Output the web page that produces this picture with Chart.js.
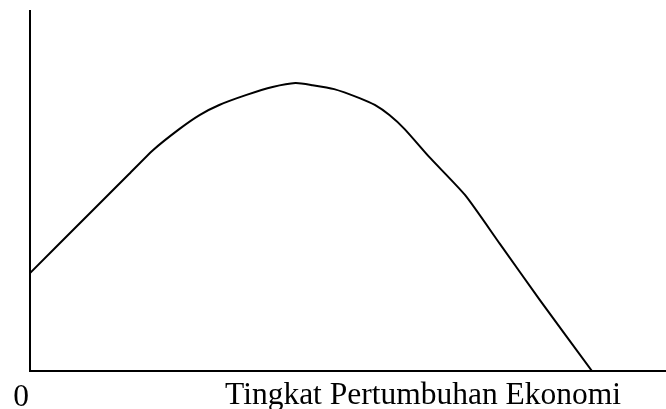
<!DOCTYPE html>
<html>
<head>
<meta charset="utf-8">
<script src="https://cdn.jsdelivr.net/npm/chart.js@4"></script>
<style>
html,body{margin:0;padding:0;background:#fff;}
#wrap{width:666px;height:409px;position:relative;}
</style>
</head>
<body>
<div id="wrap"><canvas id="c"></canvas></div>
<script>
const xValues = [0, 9.3, 15.6, 19.4, 23.5, 26.7, 29.8, 34.1, 38.2, 41.8, 44.5, 47.9, 51.9, 54.3, 56.6, 59.0, 62.9, 68.5, 74.0, 80.3, 88.5];
const yValues = [27.2, 43.6, 54.7, 61.4, 67.2, 71.1, 73.9, 76.7, 78.9, 80.0, 79.4, 78.3, 75.8, 73.9, 71.1, 67.2, 59.4, 48.9, 35.3, 19.7, 0];
const originLabel = "0";
const xAxisTitle = "Tingkat Pertumbuhan Ekonomi";

const points = xValues.map((x, i) => ({x: x, y: yValues[i]}));

const labelPlugin = {
  id: 'labels',
  afterDraw(chart) {
    const ctx = chart.ctx;
    const xs = chart.scales.x;
    const ys = chart.scales.y;
    ctx.save();
    ctx.fillStyle = '#000';
    ctx.font = '31.5px "Liberation Serif", "Times New Roman", serif';
    ctx.textBaseline = 'alphabetic';
    ctx.textAlign = 'right';
    ctx.fillText(originLabel, xs.getPixelForValue(0) - 1, ys.bottom + 35);
    ctx.textAlign = 'left';
    ctx.fillText(xAxisTitle, 225, ys.bottom + 33);
    ctx.restore();
  }
};

new Chart(document.getElementById('c'), {
  type: 'line',
  data: {
    datasets: [{
      data: points,
      borderColor: '#000',
      borderWidth: 2,
      pointRadius: 0,
      tension: 0.2,
      fill: false
    }]
  },
  options: {
    responsive: true,
    maintainAspectRatio: false,
    animation: false,
    layout: { padding: { left: 30, top: 11, right: 1, bottom: 38 } },
    plugins: { legend: { display: false }, tooltip: { enabled: false } },
    scales: {
      x: {
        type: 'linear', min: 0, max: 100,
        grid: { display: false, drawTicks: false },
        border: { display: true, color: '#000', width: 2 },
        ticks: { display: false }
      },
      y: {
        type: 'linear', min: 0, max: 100,
        grid: { display: false, drawTicks: false },
        border: { display: true, color: '#000', width: 2 },
        ticks: { display: false }
      }
    }
  },
  plugins: [labelPlugin]
});
</script>
</body>
</html>
